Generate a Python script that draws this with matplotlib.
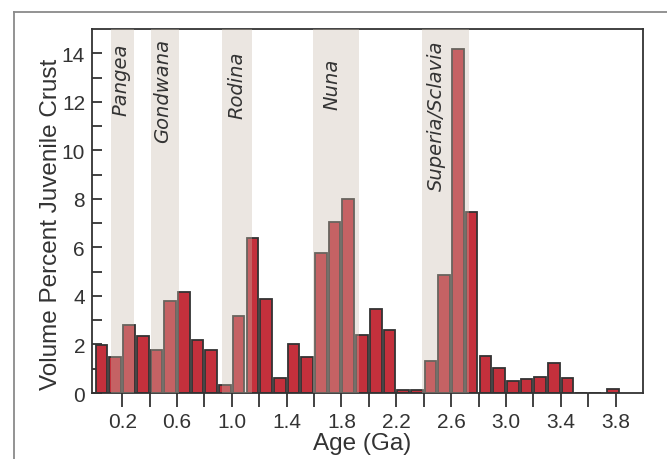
import matplotlib
matplotlib.use("Agg")
import matplotlib.pyplot as plt
from matplotlib.lines import Line2D
import numpy as np

# ---- data ----
ages = [0.05, 0.15, 0.25, 0.35, 0.45, 0.55, 0.65, 0.75, 0.85, 0.95,
        1.05, 1.15, 1.25, 1.35, 1.45, 1.55, 1.65, 1.75, 1.85, 1.95,
        2.05, 2.15, 2.25, 2.35, 2.45, 2.55, 2.65, 2.75, 2.85, 2.95,
        3.05, 3.15, 3.25, 3.35, 3.45, 3.55, 3.65, 3.78]
volume = [1.97, 1.47, 2.81, 2.34, 1.78, 3.78, 4.15, 2.19, 1.78, 0.33,
          3.16, 6.40, 3.86, 0.60, 2.01, 1.47, 5.78, 7.03, 8.01, 2.38,
          3.45, 2.59, 0.12, 0.12, 1.32, 4.86, 14.19, 7.47, 1.53, 1.01,
          0.48, 0.56, 0.65, 1.22, 0.62, 0.0, 0.0, 0.15]

supercontinents = ["Pangea", "Gondwana", "Rodina", "Nuna", "Superia/Sclavia"]
band_start = [0.118, 0.407, 0.927, 1.596, 2.385]
band_end = [0.287, 0.612, 1.145, 1.929, 2.729]

xtick_labels = ["0.2", "0.6", "1.0", "1.4", "1.8", "2.2", "2.6", "3.0", "3.4", "3.8"]

# ---- layout (positions/styles) ----
label_x = [0.193, 0.496, 1.037, 1.732, 2.489]
label_y = [12.95, 12.47, 12.73, 12.77, 11.45]

W, H = 667, 460
fig = plt.figure(figsize=(W / 100, H / 100), dpi=100)
ax = fig.add_axes([92 / W, 1 - 394 / H, (643 - 92) / W, (394 - 30) / H])

bar_color = "#c4303c"
ax.bar(ages, volume, width=0.085, color=bar_color, edgecolor="#333333",
       linewidth=1.3, zorder=2)

for s, e in zip(band_start, band_end):
    ax.axvspan(s, e, facecolor=(200 / 255, 188 / 255, 172 / 255), alpha=0.36,
               edgecolor="none", zorder=3)

for name, x, y in zip(supercontinents, label_x, label_y):
    ax.text(x, y, name, rotation=90, ha="center", va="center",
            fontsize=14, style="oblique", family="DejaVu Sans", color="#333333",
            zorder=4)

ax.set_xlim(-0.02, 4.0)
ax.set_ylim(0, 15)

major_x = [float(t) for t in xtick_labels]
ax.set_xticks(major_x)
ax.set_xticklabels(xtick_labels)
ax.set_xticks(np.arange(0.4, 3.61, 0.4), minor=True)
ax.set_yticks(np.arange(0, 15, 2))
ax.set_yticks(np.arange(1, 15, 2), minor=True)

ax.tick_params(axis="x", which="both", direction="out", length=10, width=1.3,
               color="#333333", pad=4, labelsize=15, labelcolor="#333333")
ax.tick_params(axis="y", which="both", direction="in", length=7, width=1.3,
               color="#333333", pad=5, labelsize=15, labelcolor="#333333")
for lab in ax.get_xticklabels() + ax.get_yticklabels():
    lab.set_family("Liberation Sans")

for sp in ax.spines.values():
    sp.set_color("#333333")
    sp.set_linewidth(1.3)

ax.set_xlabel("Age (Ga)", fontsize=17.5, family="Liberation Sans", color="#333333")
ax.set_ylabel("Volume Percent Juvenile Crust", fontsize=17.5,
              family="Liberation Sans", color="#333333")
ax.xaxis.set_label_coords(0.49, -0.106)
ax.yaxis.set_label_coords(-0.055, 0.467)

# outer frame lines (top and left)
fig.add_artist(Line2D([14 / W, 1], [1 - 12.5 / H, 1 - 12.5 / H],
                      transform=fig.transFigure, color="#8a8a8a", lw=1.3))
fig.add_artist(Line2D([14 / W, 14 / W], [0, 1 - 12.5 / H],
                      transform=fig.transFigure, color="#8a8a8a", lw=1.3))

fig.savefig("out.png", dpi=100)
